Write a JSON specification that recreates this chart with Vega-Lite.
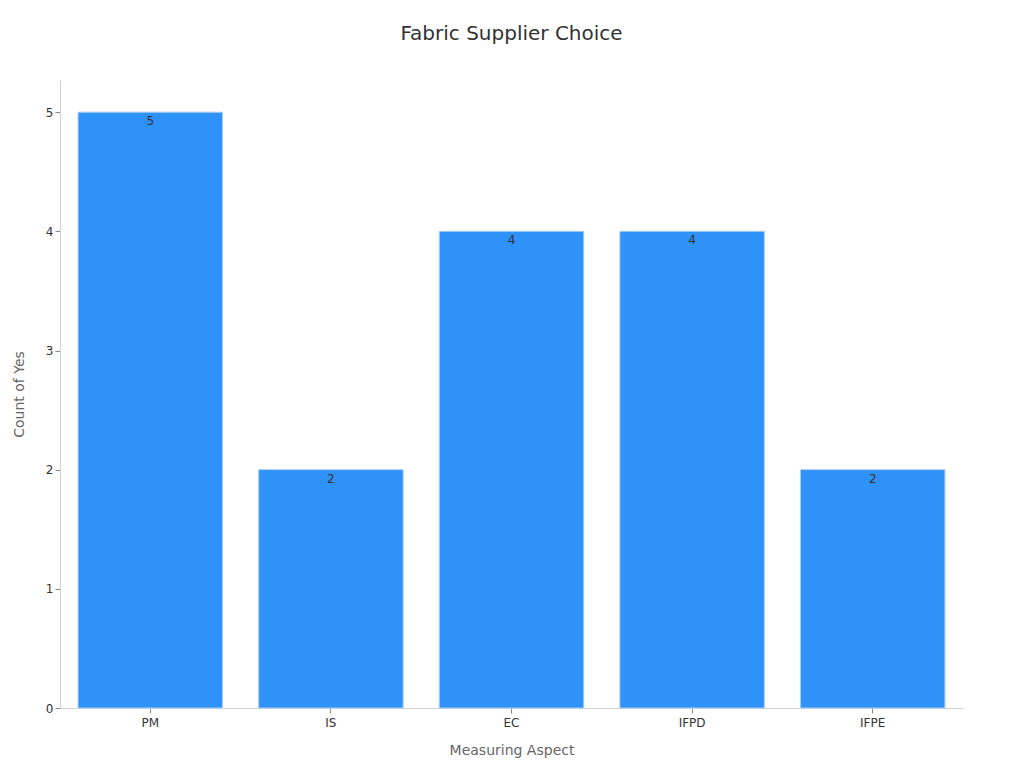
{
  "$schema": "https://vega.github.io/schema/vega-lite/v6.json",
  "autosize": "none",
  "width": 903,
  "height": 628,
  "padding": {"left": 60, "top": 80, "right": 61, "bottom": 60},
  "title": {
    "text": "Fabric Supplier Choice",
    "fontSize": 20,
    "fontWeight": "normal",
    "color": "#333333",
    "font": "DejaVu Sans",
    "offset": 36
  },
  "data": {
    "values": [
      {"aspect": "PM", "count": 5},
      {"aspect": "IS", "count": 2},
      {"aspect": "EC", "count": 4},
      {"aspect": "IFPD", "count": 4},
      {"aspect": "IFPE", "count": 2}
    ]
  },
  "encoding": {
    "x": {
      "field": "aspect",
      "type": "nominal",
      "sort": null,
      "scale": {"paddingInner": 0.2, "paddingOuter": 0.1},
      "axis": {
        "title": "Measuring Aspect",
        "labelAngle": 0,
        "labelPadding": 4,
        "titlePadding": 15
      }
    },
    "y": {
      "field": "count",
      "type": "quantitative",
      "scale": {"domain": [0, 5.27], "nice": false},
      "axis": {
        "title": "Count of Yes",
        "values": [0, 1, 2, 3, 4, 5],
        "format": "d",
        "grid": false,
        "titlePadding": 19
      }
    }
  },
  "layer": [
    {
      "mark": {"type": "bar", "color": "#2f92f8", "stroke": "#a8cdf5", "strokeWidth": 1}
    },
    {
      "mark": {"type": "text", "baseline": "top", "dy": 4, "fontSize": 12, "color": "#333333", "font": "DejaVu Sans"},
      "encoding": {"text": {"field": "count", "type": "quantitative"}}
    }
  ],
  "config": {
    "view": {"stroke": null},
    "axis": {
      "labelFont": "DejaVu Sans",
      "titleFont": "DejaVu Sans",
      "labelFontSize": 12,
      "titleFontSize": 14,
      "titleFontWeight": "normal",
      "labelColor": "#333333",
      "titleColor": "#666666",
      "domainColor": "#d0d0d0",
      "tickColor": "#888888",
      "tickSize": 5
    }
  }
}
